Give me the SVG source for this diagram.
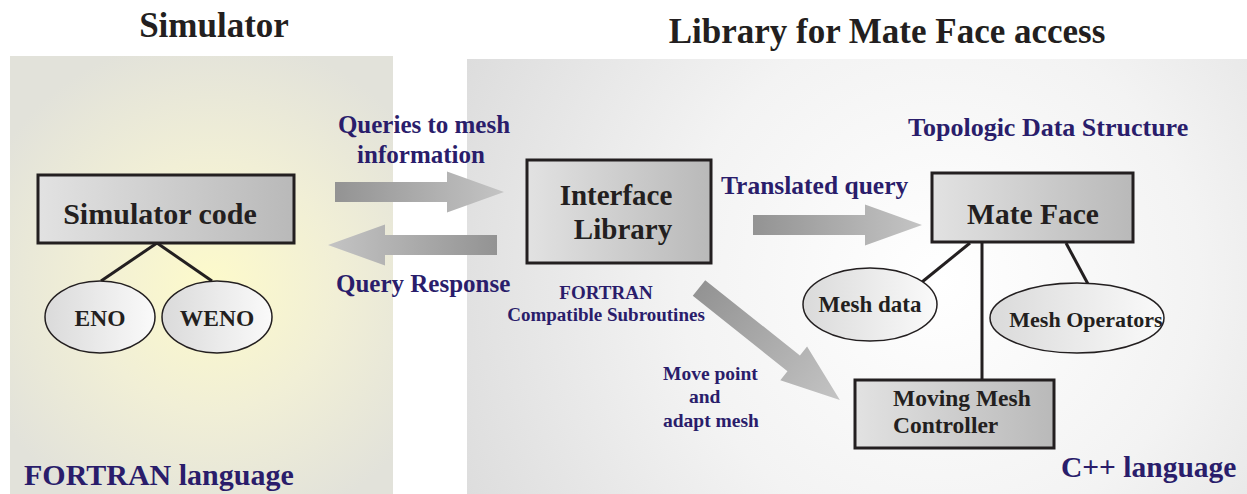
<svg xmlns="http://www.w3.org/2000/svg" width="1247" height="494" viewBox="0 0 1247 494">
<defs>
<radialGradient id="gLeft" cx="212" cy="285" r="250" gradientUnits="userSpaceOnUse">
<stop offset="0" stop-color="#fdfacb"/>
<stop offset="0.5" stop-color="#f1efd6"/>
<stop offset="1" stop-color="#e2e2da"/>
</radialGradient>
<radialGradient id="gRight" cx="940" cy="280" r="520" gradientUnits="userSpaceOnUse">
<stop offset="0" stop-color="#ffffff"/>
<stop offset="0.5" stop-color="#f3f3f3"/>
<stop offset="1" stop-color="#dddddd"/>
</radialGradient>
<linearGradient id="gBox" x1="0" y1="0" x2="1" y2="0">
<stop offset="0" stop-color="#e2e2e2"/>
<stop offset="1" stop-color="#b9b9b9"/>
</linearGradient>
<linearGradient id="gEll" x1="0" y1="0" x2="1" y2="0">
<stop offset="0" stop-color="#dadada"/>
<stop offset="1" stop-color="#fafafa"/>
</linearGradient>
<linearGradient id="gArrow" x1="0" y1="0" x2="1" y2="0">
<stop offset="0" stop-color="#939393"/>
<stop offset="1" stop-color="#c4c4c4"/>
</linearGradient>
</defs>
<style>
.title{font-family:"Liberation Serif",serif;font-weight:bold;font-size:35px;fill:#231f20}
.node{font-family:"Liberation Serif",serif;font-weight:bold;fill:#231f20}
.lbl{font-family:"Liberation Serif",serif;font-weight:bold;fill:#2a1d6b}
.box{fill:url(#gBox);stroke:#231f20;stroke-width:3}
.ell{fill:url(#gEll);stroke:#231f20;stroke-width:1.5}
.arrow{fill:url(#gArrow)}
.link{stroke:#231f20;stroke-width:3;fill:none}
</style>

<rect x="0" y="0" width="1247" height="494" fill="#ffffff"/>
<rect id="panel-simulator" x="10" y="56" width="383" height="438" fill="url(#gLeft)"/>
<rect id="panel-library" x="467" y="59" width="780" height="435" fill="url(#gRight)"/>

<text class="title" x="214" y="37" text-anchor="middle">Simulator</text>
<text class="title" x="887" y="43" text-anchor="middle">Library for Mate Face access</text>

<g id="connectors">
<path class="arrow" transform="translate(335,192)" d="M0,-10 H112 V-20.5 L169,0 L112,20.5 V10 H0 Z"/>
<path class="arrow" transform="translate(497,245) rotate(180)" d="M0,-10 H112 V-20.5 L169,0 L112,20.5 V10 H0 Z"/>
<path class="arrow" transform="translate(753,225)" d="M0,-10 H112 V-20.5 L169,0 L112,20.5 V10 H0 Z"/>
<path class="arrow" transform="translate(699,288) rotate(38.5)" d="M0,-10 H121 V-21.5 L180,0 L121,21.5 V10 H0 Z"/>
<line class="link" x1="157" y1="243" x2="101" y2="281"/>
<line class="link" x1="157" y1="243" x2="212" y2="281"/>
<line class="link" x1="970" y1="243" x2="922" y2="282"/>
<line class="link" x1="982" y1="243" x2="982" y2="380"/>
<line class="link" x1="1066" y1="243" x2="1088" y2="284"/>
</g>

<g id="simulator-code">
<rect class="box" x="38" y="175" width="256" height="68"/>
<text class="node" x="160" y="224" font-size="30" text-anchor="middle">Simulator code</text>
</g>
<g id="eno">
<ellipse class="ell" cx="100" cy="317" rx="55" ry="36"/>
<text class="node" x="100" y="326" font-size="23.5" text-anchor="middle">ENO</text>
</g>
<g id="weno">
<ellipse class="ell" cx="217" cy="317" rx="55" ry="36"/>
<text class="node" x="217" y="326" font-size="23.5" text-anchor="middle">WENO</text>
</g>

<g id="interface-library">
<rect class="box" x="527" y="160" width="184" height="103"/>
<text class="node" x="616" y="205" font-size="29" text-anchor="middle">Interface</text>
<text class="node" x="623" y="239" font-size="29" text-anchor="middle">Library</text>
</g>

<g id="mate-face">
<rect class="box" x="932" y="173" width="201" height="69"/>
<text class="node" x="1033" y="224" font-size="29.5" text-anchor="middle">Mate Face</text>
</g>
<g id="mesh-data">
<ellipse class="ell" cx="870" cy="304.5" rx="67" ry="36.5"/>
<text class="node" x="870" y="312" font-size="23" text-anchor="middle">Mesh data</text>
</g>
<g id="mesh-operators">
<ellipse class="ell" cx="1077" cy="318" rx="87" ry="35"/>
<text class="node" x="1086" y="327" font-size="22" text-anchor="middle">Mesh Operators</text>
</g>
<g id="moving-mesh-controller">
<rect class="box" x="855" y="380" width="199" height="68"/>
<text class="node" x="893" y="406" font-size="23.5">Moving Mesh</text>
<text class="node" x="893" y="433" font-size="23.5">Controller</text>
</g>

<g id="labels">
<text class="lbl" x="424" y="133" font-size="25" text-anchor="middle">Queries to mesh</text>
<text class="lbl" x="421" y="163" font-size="25" text-anchor="middle">information</text>
<text class="lbl" x="336" y="292" font-size="25">Query Response</text>
<text class="lbl" x="606" y="299" font-size="19" text-anchor="middle">FORTRAN</text>
<text class="lbl" x="606" y="321" font-size="19" text-anchor="middle">Compatible Subroutines</text>
<text class="lbl" x="721" y="194" font-size="25.5">Translated query</text>
<text class="lbl" x="908" y="136" font-size="26">Topologic Data Structure</text>
<text class="lbl" x="663" y="380" font-size="19.5">Move point</text>
<text class="lbl" x="689" y="403" font-size="19.5">and</text>
<text class="lbl" x="663" y="427" font-size="19.5">adapt mesh</text>
<text class="lbl" x="24" y="485" font-size="30">FORTRAN language</text>
<text class="lbl" x="1061" y="477" font-size="29.5">C++ language</text>
</g>
</svg>
